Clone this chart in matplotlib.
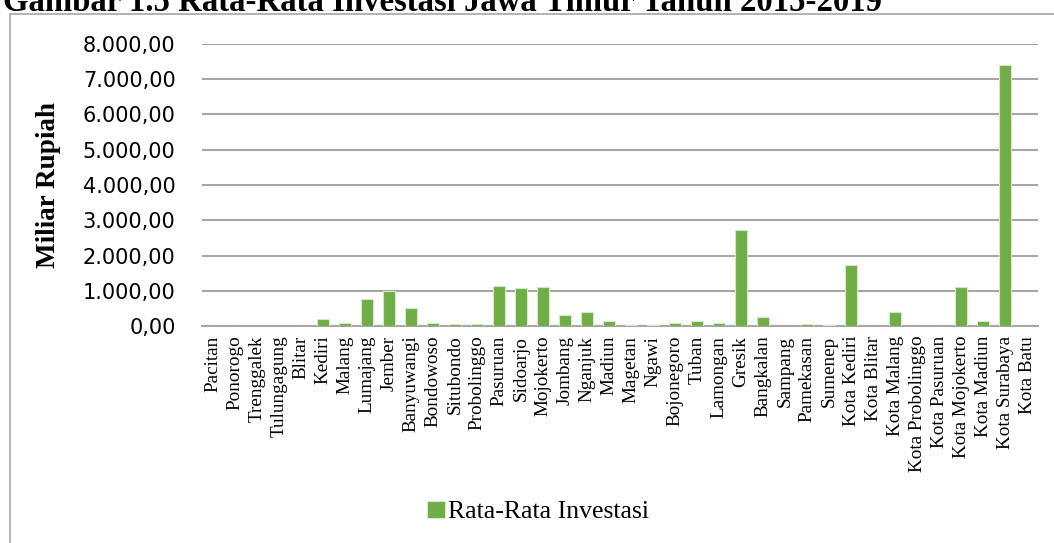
import matplotlib
matplotlib.use('Agg')
import matplotlib.pyplot as plt
import matplotlib.patches as patches
from matplotlib.ticker import FuncFormatter
import numpy as np

# data (Miliar Rupiah)
wilayah = ['Pacitan', 'Ponorogo', 'Trenggalek', 'Tulungagung', 'Blitar', 'Kediri',
           'Malang', 'Lumajang', 'Jember', 'Banyuwangi', 'Bondowoso', 'Situbondo',
           'Probolinggo', 'Pasuruan', 'Sidoarjo', 'Mojokerto', 'Jombang', 'Nganjuk',
           'Madiun', 'Magetan', 'Ngawi', 'Bojonegoro', 'Tuban', 'Lamongan', 'Gresik',
           'Bangkalan', 'Sampang', 'Pamekasan', 'Sumenep', 'Kota Kediri', 'Kota Blitar',
           'Kota Malang', 'Kota Probolinggo', 'Kota Pasuruan', 'Kota Mojokerto',
           'Kota Madiun', 'Kota Surabaya', 'Kota Batu']
investasi = [0, 0, 0, 10, 10, 200,
             80, 770, 1000, 505, 95, 55,
             65, 1125, 1075, 1105, 325, 390,
             145, 20, 15, 95, 155, 75, 2735,
             260, 0, 50, 15, 1725, 0,
             400, 0, 0, 1095,
             150, 7400, 0]
yticks = [0, 1000, 2000, 3000, 4000, 5000, 6000, 7000, 8000]

serif = ['Liberation Serif', 'DejaVu Serif']

fig = plt.figure(figsize=(10.54, 5.43), dpi=100)

# outer chart frame
fig.patches.append(patches.Rectangle((10 / 1054, -0.05), 1.1, 1 - 14 / 543 + 0.05,
                                     transform=fig.transFigure, fill=False,
                                     edgecolor='#a6a6a6', linewidth=1.2))

fig.text(0.003, 1 - 11 / 543, 'Gambar 1.5 Rata-Rata Investasi Jawa Timur Tahun 2015-2019',
         family=serif, fontweight='bold', fontsize=23.6, va='baseline', ha='left')

ax = fig.add_axes([202 / 1054, 1 - 326 / 543, (1038 - 202) / 1054, (326 - 44) / 543])

x = np.arange(len(wilayah))
ax.bar(x, investasi, 0.56, color='#70ad47', edgecolor='#d5e8c8', linewidth=0.8,
       label='Rata-Rata Investasi', zorder=3)

ax.set_xlim(-0.5, len(wilayah) - 0.5)
ax.set_ylim(0, 8000)
ax.set_yticks(yticks)
ax.yaxis.set_major_formatter(FuncFormatter(
    lambda v, p: '{:,.2f}'.format(v).replace(',', 'X').replace('.', ',').replace('X', '.')))
ax.grid(axis='y', color='#a6a6a6', linewidth=1.5, zorder=0)
ax.set_axisbelow(True)
for s in ['top', 'right', 'left']:
    ax.spines[s].set_visible(False)
ax.spines['bottom'].set_color('#a6a6a6')
ax.spines['bottom'].set_linewidth(1.5)

ax.set_xticks(x)
ax.set_xticklabels(wilayah, rotation=90, family=serif, fontsize=13.8)
ax.tick_params(axis='x', length=0, pad=7)
ax.tick_params(axis='y', length=0, pad=19, labelsize=15)

ax.set_ylabel('Miliar Rupiah', family=serif, fontweight='bold', fontsize=19.5, labelpad=16)

leg = fig.legend(loc='center', bbox_to_anchor=(538 / 1054, 1 - 512 / 543), frameon=False,
                 prop={'family': serif, 'size': 18.5}, handlelength=0.7, handleheight=0.7,
                 handletextpad=0.15)

plt.savefig('out.png', dpi=100)
